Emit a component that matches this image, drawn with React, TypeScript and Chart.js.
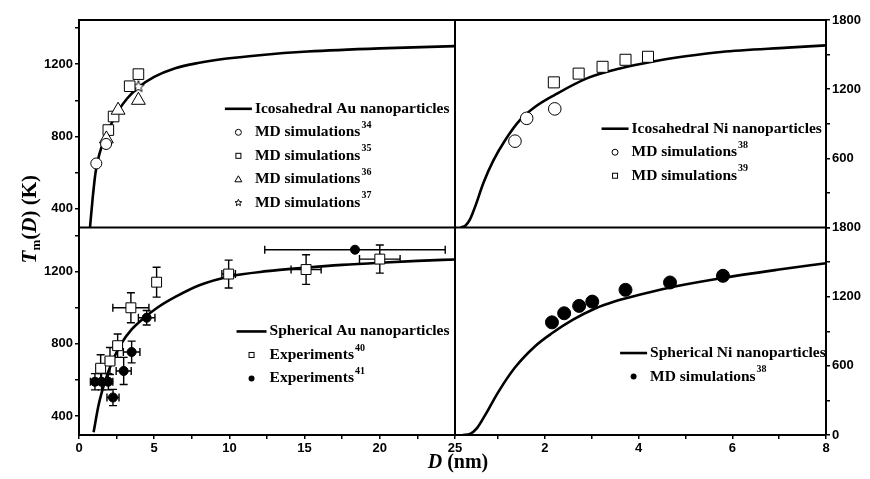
import React, { useEffect, useRef } from 'react';
import { Chart, registerables } from 'chart.js';

Chart.register(...registerables);

// ---------- Panel (top-left): icosahedral Au ----------
const auIcoCurveD = [0.73, 0.9, 1.1, 1.35, 1.7, 2.1, 2.6, 3.2, 4.0, 5.0, 6.4, 8.0, 9.7, 12, 15.2, 20, 25];
const auIcoCurveT = [294, 450, 600, 700, 785, 862, 940, 1010, 1075, 1130, 1178, 1208, 1230, 1250, 1270, 1288, 1300];
const auIcoMd34D = [1.15, 1.8];
const auIcoMd34T = [650, 758];
const auIcoMd35D = [1.95, 2.3, 3.37, 3.95];
const auIcoMd35T = [835, 910, 1078, 1145];
const auIcoMd36D = [1.82, 2.6, 3.95];
const auIcoMd36T = [786, 945, 1000];
const auIcoMd37D = [3.95];
const auIcoMd37T = [1078];
const auIcoLegendLabels = ['Icosahedral Au nanoparticles', 'MD simulations', 'MD simulations', 'MD simulations', 'MD simulations'];
const auIcoLegendRefs = ['', '34', '35', '36', '37'];

// ---------- Panel (top-right): icosahedral Ni ----------
const niIcoCurveD = [0.2, 0.3, 0.4, 0.5, 0.69, 0.9, 1.15, 1.47, 1.8, 2.21, 2.92, 3.6, 4.34, 5.0, 5.76, 7.18, 8.0];
const niIcoCurveT = [0, 15, 70, 170, 390, 582, 757, 933, 1050, 1151, 1298, 1380, 1443, 1485, 1522, 1560, 1580];
const niIcoMd38D = [1.36, 1.61, 2.21];
const niIcoMd38T = [749, 947, 1029];
const niIcoMd39D = [2.19, 2.72, 3.23, 3.72, 4.2];
const niIcoMd39T = [1259, 1335, 1394, 1455, 1481];
const niIcoLegendLabels = ['Icosahedral Ni nanoparticles', 'MD simulations', 'MD simulations'];
const niIcoLegendRefs = ['', '38', '39'];

// ---------- Panel (bottom-left): spherical Au ----------
const auSphCurveD = [0.97, 1.3, 1.73, 2.2, 2.8, 3.5, 4.2, 5.2, 6.4, 8, 10, 12.5, 15, 17.5, 20, 22.5, 25];
const auSphCurveT = [310, 460, 592, 700, 800, 880, 935, 1000, 1060, 1125, 1174, 1203, 1222, 1238, 1250, 1260, 1268];
const auSphExp40D = [1.44, 2.06, 2.57, 3.45, 5.16, 9.95, 15.1, 20.0];
const auSphExp40T = [665, 705, 790, 1000, 1142, 1187, 1212, 1270];
const auSphExp40ErrD = [0.3, 0.3, 0.3, 1.2, 0.15, 0.45, 1.0, 1.35];
const auSphExp40ErrT = [75, 75, 65, 83, 83, 77, 82, 78];
const auSphExp41D = [1.06, 1.5, 1.95, 2.26, 2.97, 3.5, 4.5, 18.35];
const auSphExp41T = [590, 590, 590, 503, 650, 755, 945, 1322];
const auSphExp41ErrD = [0.3, 0.3, 0.3, 0.4, 0.5, 0.55, 0.55, 6.0];
const auSphExp41ErrT = [45, 45, 45, 45, 75, 60, 40, 0];
const auSphLegendLabels = ['Spherical Au nanoparticles', 'Experiments', 'Experiments'];
const auSphLegendRefs = ['', '40', '41'];

// ---------- Panel (bottom-right): spherical Ni ----------
const niSphCurveD = [0.25, 0.4, 0.55, 0.72, 1.0, 1.36, 1.79, 2.14, 2.6, 3.06, 3.5, 4.06, 4.8, 5.76, 7.0, 8.0];
const niSphCurveT = [0, 10, 60, 170, 370, 585, 770, 880, 1000, 1095, 1160, 1220, 1290, 1360, 1435, 1490];
const niSphMd38D = [2.15, 2.41, 2.73, 3.01, 3.72, 4.67, 5.8];
const niSphMd38T = [977, 1056, 1120, 1157, 1259, 1323, 1381];
const niSphLegendLabels = ['Spherical Ni nanoparticles', 'MD simulations'];
const niSphLegendRefs = ['', '38'];

// ---------- Axes ----------
const auDRange = [0, 25];
const niDRange = [0.08, 8];
const auTRange = [295, 1445];
const niTRange = [0, 1800];
const auDTickLabels = [0, 5, 10, 15, 20, 25];
const niDTickLabels = [2, 4, 6, 8];
const auTTickLabels = [400, 800, 1200];
const niTopTTickLabels = [600, 1200, 1800];
const niBotTTickLabels = [0, 600, 1200, 1800];
const xTitleItalic = 'D';
const xTitleRest = ' (nm)';

const SERIF = '"Liberation Serif", "Times New Roman", serif';
const SANS = '"Liberation Sans", Arial, sans-serif';

const pts = (xs: number[], ys: number[]) => xs.map((x, i) => ({ x, y: ys[i] }));

function starPath(g: CanvasRenderingContext2D, cx: number, cy: number, r: number) {
  g.beginPath();
  for (let i = 0; i < 10; i++) {
    const ang = -Math.PI / 2 + (i * Math.PI) / 5;
    const rr = i % 2 === 0 ? r : r * 0.45;
    g.lineTo(cx + rr * Math.cos(ang), cy + rr * Math.sin(ang));
  }
  g.closePath();
}

function makeStar(r: number) {
  const size = Math.ceil(2 * r + 4);
  const c = document.createElement('canvas');
  c.width = size;
  c.height = size;
  const g = c.getContext('2d')!;
  starPath(g, size / 2, size / 2 + 0.5, r);
  g.fillStyle = '#fff';
  g.fill();
  g.lineWidth = 1;
  g.strokeStyle = '#000';
  g.stroke();
  return c;
}

function drawMarker(ctx: CanvasRenderingContext2D, kind: string, x: number, y: number) {
  ctx.save();
  ctx.lineWidth = 1;
  ctx.strokeStyle = '#000';
  ctx.fillStyle = '#fff';
  if (kind === 'circle') {
    ctx.beginPath();
    ctx.arc(x, y, 3, 0, Math.PI * 2);
    ctx.stroke();
  } else if (kind === 'dot') {
    ctx.beginPath();
    ctx.arc(x, y, 3, 0, Math.PI * 2);
    ctx.fillStyle = '#000';
    ctx.fill();
  } else if (kind === 'square') {
    ctx.strokeRect(x - 2.5, y - 2.5, 5, 5);
  } else if (kind === 'triangle') {
    ctx.beginPath();
    ctx.moveTo(x, y - 3.5);
    ctx.lineTo(x + 3.5, y + 2.5);
    ctx.lineTo(x - 3.5, y + 2.5);
    ctx.closePath();
    ctx.stroke();
  } else if (kind === 'star') {
    starPath(ctx, x, y, 3.5);
    ctx.stroke();
  }
  ctx.restore();
}

function drawErrorBars(ctx: CanvasRenderingContext2D, xs: any, ys: any, D: number[], T: number[], eD: number[], eT: number[]) {
  ctx.save();
  ctx.strokeStyle = '#000';
  ctx.lineWidth = 1.4;
  const cap = 4;
  for (let i = 0; i < D.length; i++) {
    const px = xs.getPixelForValue(D[i]);
    const py = ys.getPixelForValue(T[i]);
    ctx.beginPath();
    if (eD[i] > 0) {
      const x1 = xs.getPixelForValue(D[i] - eD[i]);
      const x2 = xs.getPixelForValue(D[i] + eD[i]);
      ctx.moveTo(x1, py); ctx.lineTo(x2, py);
      ctx.moveTo(x1, py - cap); ctx.lineTo(x1, py + cap);
      ctx.moveTo(x2, py - cap); ctx.lineTo(x2, py + cap);
    }
    if (eT[i] > 0) {
      const y1 = ys.getPixelForValue(T[i] - eT[i]);
      const y2 = ys.getPixelForValue(T[i] + eT[i]);
      ctx.moveTo(px, y1); ctx.lineTo(px, y2);
      ctx.moveTo(px - cap, y1); ctx.lineTo(px + cap, y1);
      ctx.moveTo(px - cap, y2); ctx.lineTo(px + cap, y2);
    }
    ctx.stroke();
  }
  ctx.restore();
}

const legendPanels = [
  { x: 'xL', y: 'yTL', fx: 0.388, fy: 0.428, len: 27, labels: auIcoLegendLabels, refs: auIcoLegendRefs, kinds: ['line', 'circle', 'square', 'triangle', 'star'] },
  { x: 'xR', y: 'yTR', fx: 0.395, fy: 0.524, len: 27, labels: niIcoLegendLabels, refs: niIcoLegendRefs, kinds: ['line', 'circle', 'square'] },
  { x: 'xL', y: 'yBL', fx: 0.419, fy: 0.501, len: 30, labels: auSphLegendLabels, refs: auSphLegendRefs, kinds: ['line', 'square', 'dot'] },
  { x: 'xR', y: 'yBR', fx: 0.445, fy: 0.605, len: 27, labels: niSphLegendLabels, refs: niSphLegendRefs, kinds: ['line', 'dot'] },
];

const decorPlugin = {
  id: 'decor',
  beforeDatasetsDraw(chart: any) {
    const ctx = chart.ctx as CanvasRenderingContext2D;
    const a = chart.chartArea;
    ctx.save();
    ctx.beginPath();
    ctx.rect(a.left, a.top, a.right - a.left, a.bottom - a.top);
    ctx.clip();
    drawErrorBars(ctx, chart.scales.xL, chart.scales.yBL, auSphExp40D, auSphExp40T, auSphExp40ErrD, auSphExp40ErrT);
    drawErrorBars(ctx, chart.scales.xL, chart.scales.yBL, auSphExp41D, auSphExp41T, auSphExp41ErrD, auSphExp41ErrT);
    ctx.restore();
  },
  afterDraw(chart: any) {
    const ctx = chart.ctx as CanvasRenderingContext2D;
    const a = chart.chartArea;
    const s = chart.scales;
    // frames
    ctx.save();
    ctx.strokeStyle = '#000';
    ctx.lineWidth = 2;
    ctx.beginPath();
    ctx.moveTo(a.left - 1, a.top);
    ctx.lineTo(a.right + 1, a.top);
    ctx.moveTo(a.left, s.yTL.bottom);
    ctx.lineTo(a.right, s.yTL.bottom);
    ctx.moveTo(s.xL.right, a.top);
    ctx.lineTo(s.xL.right, a.bottom);
    ctx.stroke();
    ctx.restore();

    // legends
    for (const p of legendPanels) {
      const xs = s[p.x];
      const ys = s[p.y];
      const x0 = xs.left + p.fx * (xs.right - xs.left);
      const y0 = ys.top + p.fy * (ys.bottom - ys.top);
      const row = 23.5;
      p.labels.forEach((label: string, i: number) => {
        const y = y0 + i * row;
        const kind = p.kinds[i];
        if (kind === 'line') {
          ctx.save();
          ctx.strokeStyle = '#000';
          ctx.lineWidth = 2.6;
          ctx.beginPath();
          ctx.moveTo(x0, y);
          ctx.lineTo(x0 + p.len, y);
          ctx.stroke();
          ctx.restore();
        } else {
          drawMarker(ctx, kind, x0 + p.len / 2, y);
        }
        ctx.save();
        ctx.fillStyle = '#000';
        ctx.textBaseline = 'middle';
        ctx.textAlign = 'left';
        ctx.font = `bold 15.5px ${SERIF}`;
        const tx = x0 + p.len + 3;
        ctx.fillText(label, tx, y);
        const w = ctx.measureText(label).width;
        if (p.refs[i]) {
          ctx.font = `bold 10px ${SERIF}`;
          ctx.fillText(p.refs[i], tx + w + 1, y - 7);
        }
        ctx.restore();
      });
    }

    // y title
    ctx.save();
    ctx.fillStyle = '#000';
    ctx.textBaseline = 'middle';
    ctx.textAlign = 'left';
    const cy = a.top + 0.48 * (a.bottom - a.top);
    ctx.translate(31, cy);
    ctx.rotate(-Math.PI / 2);
    const parts: [string, string, number][] = [
      ['T', `italic bold 21px ${SERIF}`, 0],
      ['m', `bold 13px ${SERIF}`, 6],
      ['(', `bold 21px ${SERIF}`, 0],
      ['D', `italic bold 21px ${SERIF}`, 0],
      [') (K)', `bold 21px ${SERIF}`, 0],
    ];
    let total = 0;
    for (const [t, f] of parts) { ctx.font = f; total += ctx.measureText(t).width; }
    let cx = -total / 2;
    for (const [t, f, dy] of parts) {
      ctx.font = f;
      ctx.fillText(t, cx, dy);
      cx += ctx.measureText(t).width;
    }
    ctx.restore();

    // x title
    ctx.save();
    ctx.fillStyle = '#000';
    ctx.textBaseline = 'middle';
    ctx.textAlign = 'left';
    ctx.font = `italic bold 20px ${SERIF}`;
    const w1 = ctx.measureText(xTitleItalic).width;
    ctx.font = `bold 20px ${SERIF}`;
    const w2 = ctx.measureText(xTitleRest).width;
    const xc = s.xL.right + 3;
    const yc = a.bottom + 28;
    ctx.font = `italic bold 20px ${SERIF}`;
    ctx.fillText(xTitleItalic, xc - (w1 + w2) / 2, yc);
    ctx.font = `bold 20px ${SERIF}`;
    ctx.fillText(xTitleRest, xc - (w1 + w2) / 2 + w1, yc);
    ctx.restore();
  },
};

const tickFont = { family: SANS, weight: 'bold' as const, size: 13 };

function axis(axisName: string, position: string, stack: string, stackWeight: number, weight: number,
  range: number[], step: number, labels: number[], size: number) {
  return {
    type: 'linear',
    axis: axisName,
    position,
    stack,
    stackWeight,
    weight,
    min: range[0],
    max: range[1],
    grid: { display: true, drawOnChartArea: false, drawTicks: true, tickLength: 4, color: '#000', lineWidth: 1.5 },
    border: { display: true, color: '#000', width: 2 },
    ticks: {
      stepSize: step,
      autoSkip: false,
      includeBounds: false,
      maxRotation: 0,
      padding: 2,
      color: '#000',
      font: tickFont,
      callback: (v: any) => (labels.includes(Number(v)) ? String(v) : ''),
    },
    afterFit: (sc: any) => {
      if (axisName === 'x') sc.height = size; else sc.width = size;
    },
  };
}

function marker(xs: number[], ys: number[], xAxisID: string, yAxisID: string, style: any, radius: number, fill: string) {
  return {
    data: pts(xs, ys), xAxisID, yAxisID, showLine: false,
    pointStyle: style, pointRadius: radius, pointHoverRadius: radius,
    pointBackgroundColor: fill, pointBorderColor: '#000', pointBorderWidth: 1, order: 0,
  };
}

function curve(xs: number[], ys: number[], xAxisID: string, yAxisID: string) {
  return {
    data: pts(xs, ys), xAxisID, yAxisID, showLine: true, pointRadius: 0, pointHoverRadius: 0,
    borderColor: '#000', borderWidth: 2.6, fill: false, cubicInterpolationMode: 'monotone', order: 10,
  };
}

export default function App() {
  const ref = useRef<HTMLCanvasElement>(null);
  useEffect(() => {
    const canvas = ref.current;
    if (!canvas) return;
    const star = makeStar(6);
    const chart = new Chart(canvas, {
      type: 'scatter',
      data: {
        datasets: [
          marker(auIcoMd34D, auIcoMd34T, 'xL', 'yTL', 'circle', 5.5, '#fff'),
          marker(auIcoMd36D, auIcoMd36T, 'xL', 'yTL', 'triangle', 8, '#fff'),
          marker(auIcoMd35D, auIcoMd35T, 'xL', 'yTL', 'rect', 7.5, '#fff'),
          marker(auIcoMd37D, auIcoMd37T, 'xL', 'yTL', star, 6, '#fff'),
          curve(auIcoCurveD, auIcoCurveT, 'xL', 'yTL'),
          marker(niIcoMd38D, niIcoMd38T, 'xR', 'yTR', 'circle', 6.3, '#fff'),
          marker(niIcoMd39D, niIcoMd39T, 'xR', 'yTR', 'rect', 7.8, '#fff'),
          curve(niIcoCurveD, niIcoCurveT, 'xR', 'yTR'),
          marker(auSphExp41D, auSphExp41T, 'xL', 'yBL', 'circle', 4.5, '#000'),
          marker(auSphExp40D, auSphExp40T, 'xL', 'yBL', 'rect', 7, '#fff'),
          curve(auSphCurveD, auSphCurveT, 'xL', 'yBL'),
          marker(niSphMd38D, niSphMd38T, 'xR', 'yBR', 'circle', 6.5, '#000'),
          curve(niSphCurveD, niSphCurveT, 'xR', 'yBR'),
        ] as any,
      },
      options: {
        responsive: false,
        animation: false,
        events: [],
        layout: { padding: { top: 20, left: 0, right: 0, bottom: 0 } },
        plugins: { legend: { display: false }, tooltip: { enabled: false } },
        scales: {
          xL: axis('x', 'bottom', 'xb', 376, 0, auDRange, 2.5, auDTickLabels, 44),
          xR: axis('x', 'bottom', 'xb', 371, 1, niDRange, 1, niDTickLabels, 44),
          yTL: axis('y', 'left', 'yl', 1, 1, auTRange, 200, auTTickLabels, 79),
          yBL: axis('y', 'left', 'yl', 1, 0, auTRange, 200, auTTickLabels, 79),
          yTR: axis('y', 'right', 'yr', 1, 0, niTRange, 300, niTopTTickLabels, 44),
          yBR: axis('y', 'right', 'yr', 1, 1, niTRange, 300, niBotTTickLabels, 44),
        } as any,
      },
      plugins: [decorPlugin],
    } as any);
    return () => chart.destroy();
  }, []);
  return (
    <div style={{ position: 'absolute', left: 0, top: 0, width: 870, height: 479, background: '#fff' }}>
      <canvas ref={ref} width={870} height={479} style={{ display: 'block', width: 870, height: 479 }} />
    </div>
  );
}
